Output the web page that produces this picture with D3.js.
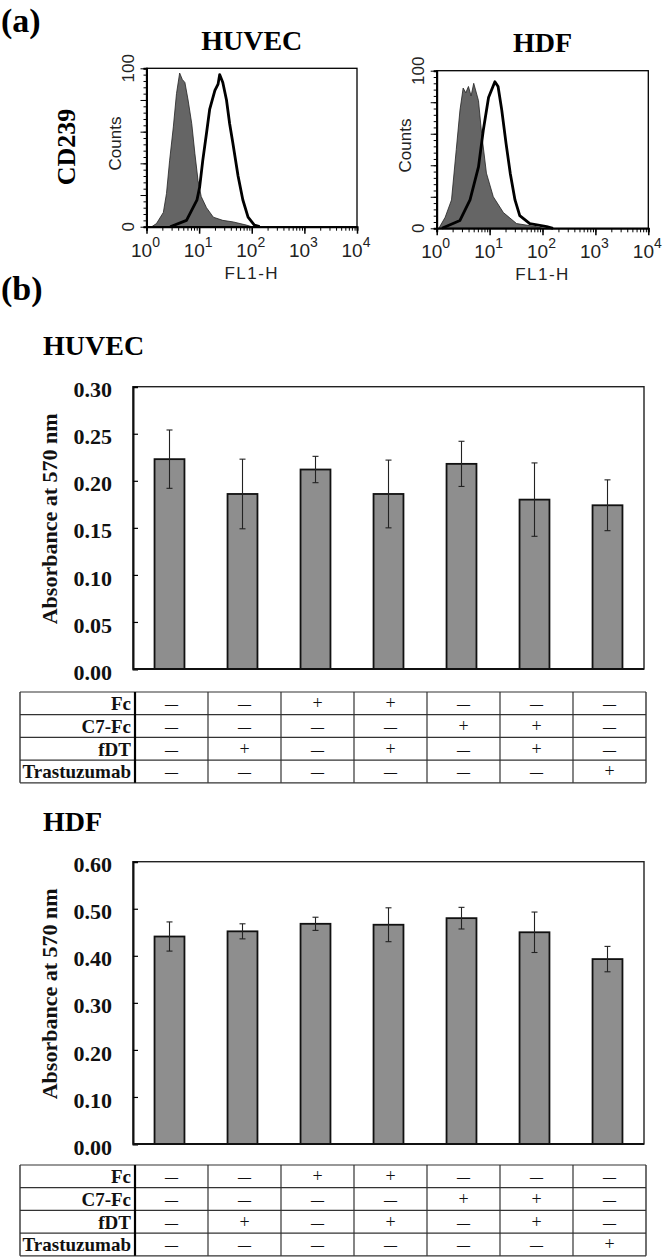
<!DOCTYPE html>
<html>
<head>
<meta charset="UTF-8">
<title>CD239 expression and viability, HUVEC / HDF</title>
<script src="https://d3js.org/d3.v7.min.js"></script>
<style>
  body { margin: 0; background: #fff; }
  svg { display: block; }
</style>
</head>
<body>
<div id="chart"></div>
<script>
  // (a) flow histograms: log10(FL1-H) positions and counts (0-100)
  const huvecIsoLog = [0.10, 0.19, 0.32, 0.38, 0.44, 0.51, 0.57, 0.63, 0.68, 0.73, 0.79, 0.86, 0.92, 0.98, 1.04, 1.14, 1.27, 1.45, 1.65, 1.90, 2.00];
  const huvecIsoCnt = [0, 2, 9, 21, 42, 63, 84, 97, 93, 91, 80, 65, 46, 29, 19, 12, 6, 4, 3, 1, 0];
  const huvecCdLog = [0.45, 0.76, 0.96, 1.01, 1.07, 1.14, 1.20, 1.30, 1.36, 1.39, 1.45, 1.52, 1.58, 1.64, 1.74, 1.83, 1.93, 2.05, 2.15];
  const huvecCdCnt = [0, 4, 17, 25, 42, 59, 74, 86, 90, 96, 91, 80, 65, 53, 32, 17, 6, 1, 0];

  const hdfIsoLog = [0.04, 0.16, 0.28, 0.37, 0.44, 0.50, 0.55, 0.60, 0.65, 0.70, 0.79, 0.85, 0.94, 1.07, 1.26, 1.51, 1.89, 2.00];
  const hdfIsoCnt = [0, 7, 18, 50, 75, 89, 86, 90, 84, 92, 81, 60, 35, 20, 10, 3, 1, 0];
  const hdfCdLog = [0.10, 0.44, 0.63, 0.79, 0.88, 0.98, 1.10, 1.16, 1.23, 1.31, 1.39, 1.48, 1.57, 1.76, 2.08, 2.20];
  const hdfCdCnt = [0, 5, 18, 39, 62, 83, 93, 90, 75, 54, 35, 18, 8, 3, 1, 0];

  const flowDecades = [0, 1, 2, 3, 4];
  const countTicks = [0, 100];

  // (b) viability assay
  const conditions = ["none", "fDT", "Fc", "Fc+fDT", "C7-Fc", "C7-Fc+fDT", "Trastuzumab"];
  const huvecMean = [0.223, 0.186, 0.212, 0.186, 0.218, 0.180, 0.174];
  const huvecErr = [0.031, 0.037, 0.014, 0.036, 0.024, 0.039, 0.027];
  const hdfMean = [0.441, 0.452, 0.468, 0.466, 0.480, 0.450, 0.393];
  const hdfErr = [0.031, 0.016, 0.014, 0.036, 0.023, 0.043, 0.027];
  const huvecTicks = [0, 0.05, 0.10, 0.15, 0.20, 0.25, 0.30];
  const hdfTicks = [0, 0.10, 0.20, 0.30, 0.40, 0.50, 0.60];

  const treatments = ["Fc", "C7-Fc", "fDT", "Trastuzumab"];
  const fcRow = ["—", "—", "+", "+", "—", "—", "—"];
  const c7Row = ["—", "—", "—", "—", "+", "+", "—"];
  const fdtRow = ["—", "+", "—", "+", "—", "+", "—"];
  const trasRow = ["—", "—", "—", "—", "—", "—", "+"];
  const tableRows = [fcRow, c7Row, fdtRow, trasRow];

  const SERIF = '"Liberation Serif", "Times New Roman", "DejaVu Serif", serif';
  const SANS = '"Liberation Sans", Arial, "DejaVu Sans", sans-serif';

  const W = 666, H = 1259;
  const svg = d3.select("#chart").append("svg")
    .attr("width", W).attr("height", H);

  svg.append("text")
    .attr("x", 1).attr("y", 32)
    .style("font-family", SERIF).style("font-size", "34px").style("font-weight", "bold")
    .text("(a)");
  svg.append("text")
    .attr("x", 1).attr("y", 300)
    .style("font-family", SERIF).style("font-size", "34px").style("font-weight", "bold")
    .text("(b)");

  // ---------- flow panels ----------
  function drawFlow(o) {
    const x = d3.scaleLog().domain([1, 1e4]).range([o.left, o.right]);
    const y = d3.scaleLinear().domain([0, 100]).range([o.bottom, o.top]);
    const g = svg.append("g");

    g.append("text")
      .attr("x", (o.left + o.right) / 2).attr("y", o.titleY)
      .attr("text-anchor", "middle")
      .style("font-family", SERIF).style("font-size", "28px").style("font-weight", "bold")
      .text(o.title);

    const area = d3.area()
      .x((d, i) => x(10 ** o.isoLog[i]))
      .y0(y(0)).y1(d => y(d));
    g.append("path").datum(o.isoCnt)
      .attr("d", area)
      .attr("fill", "#656565").attr("stroke", "#222").attr("stroke-width", 0.8);

    const line = d3.line()
      .x((d, i) => x(10 ** o.cdLog[i]))
      .y(d => y(d));
    g.append("path").datum(o.cdCnt)
      .attr("d", line)
      .attr("fill", "none").attr("stroke", "#000").attr("stroke-width", 2.8)
      .attr("stroke-linejoin", "round");

    g.append("rect")
      .attr("x", o.left).attr("y", o.top)
      .attr("width", o.right - o.left).attr("height", o.bottom - o.top)
      .attr("fill", "none").attr("stroke", "#000").attr("stroke-width", 1.3);

    // x axis: minor and decade ticks
    const minor = x.ticks();
    g.append("g").attr("transform", `translate(0,${o.bottom})`)
      .call(d3.axisBottom(x).tickValues(minor).tickSize(4).tickFormat(""))
      .call(a => a.select(".domain").attr("stroke-width", 2));
    g.append("g").attr("transform", `translate(0,${o.bottom})`)
      .call(d3.axisBottom(x).tickValues(flowDecades.map(d => 10 ** d)).tickSize(7).tickFormat(""))
      .call(a => a.select(".domain").remove())
      .call(a => a.selectAll("line").attr("stroke-width", 1.5));

    const lab = g.selectAll(".xlab").data(flowDecades).enter()
      .append("text").attr("class", "xlab")
      .attr("x", d => x(10 ** d) - 1).attr("y", o.bottom + 30)
      .attr("text-anchor", "middle")
      .style("font-family", SANS).style("font-size", "19px").style("fill", "#222");
    lab.append("tspan").text("10");
    lab.append("tspan").attr("dy", -10).style("font-size", "14px").text(d => d);

    g.append("text")
      .attr("x", (o.left + o.right) / 2).attr("y", o.bottom + 52)
      .attr("text-anchor", "middle")
      .style("font-family", SANS).style("font-size", "17px")
      .style("letter-spacing", "1.5px").style("fill", "#222")
      .text("FL1-H");

    // y axis
    g.append("g").attr("transform", `translate(${o.left},0)`)
      .call(d3.axisLeft(y).tickValues(d3.range(0, 101, 4)).tickSize(3).tickFormat(""))
      .call(a => a.select(".domain").attr("stroke-width", 2));
    g.append("g").attr("transform", `translate(${o.left},0)`)
      .call(d3.axisLeft(y).tickValues(d3.range(0, 101, 20)).tickSize(6).tickFormat(""))
      .call(a => a.select(".domain").remove());

    g.selectAll(".ylab").data(countTicks).enter()
      .append("text").attr("class", "ylab")
      .attr("transform", d => `translate(${o.left - 13},${y(d)}) rotate(-90)`)
      .attr("text-anchor", "middle")
      .style("font-family", SANS).style("font-size", "17px").style("fill", "#222")
      .text(d => d);

    g.append("text")
      .attr("transform", `translate(${o.left - 26},${(o.top + o.bottom) / 2 - 4}) rotate(-90)`)
      .attr("text-anchor", "middle")
      .style("font-family", SANS).style("font-size", "17px").style("fill", "#222")
      .text("Counts");
  }

  drawFlow({ title: "HUVEC", titleY: 50, left: 146.5, right: 357, top: 68.3, bottom: 226.7,
    isoLog: huvecIsoLog, isoCnt: huvecIsoCnt, cdLog: huvecCdLog, cdCnt: huvecCdCnt });
  drawFlow({ title: "HDF", titleY: 52, left: 436.7, right: 648.3, top: 70.7, bottom: 228.3,
    isoLog: hdfIsoLog, isoCnt: hdfIsoCnt, cdLog: hdfCdLog, cdCnt: hdfCdCnt });

  svg.append("text")
    .attr("transform", "translate(75,147) rotate(-90)")
    .attr("text-anchor", "middle")
    .style("font-family", SERIF).style("font-size", "26px").style("font-weight", "bold")
    .text("CD239");

  // ---------- bar panels ----------
  function drawBars(o) {
    const x = d3.scaleBand().domain(conditions).range([133, 644])
      .paddingInner(0.59).paddingOuter(0.295);
    const y = d3.scaleLinear().domain([0, o.max]).range([o.bottom, o.top]);
    const g = svg.append("g");

    g.append("text")
      .attr("x", 43).attr("y", o.titleY)
      .style("font-family", SERIF).style("font-size", "28px").style("font-weight", "bold")
      .text(o.title);

    g.append("g").selectAll("rect").data(o.mean).enter()
      .append("rect")
      .attr("x", (d, i) => x(conditions[i]))
      .attr("y", d => y(d))
      .attr("width", x.bandwidth())
      .attr("height", d => y(0) - y(d))
      .attr("fill", "#8e8e8e").attr("stroke", "#111").attr("stroke-width", 1.8);

    const eb = g.append("g").selectAll("g").data(o.mean).enter().append("g")
      .attr("stroke", "#222").attr("stroke-width", 1.1);
    const cx = (d, i) => x(conditions[i]) + x.bandwidth() / 2;
    eb.append("line")
      .attr("x1", cx).attr("x2", cx)
      .attr("y1", (d, i) => y(d + o.err[i])).attr("y2", (d, i) => y(d - o.err[i]));
    eb.append("line")
      .attr("x1", (d, i) => cx(d, i) - 3).attr("x2", (d, i) => cx(d, i) + 3)
      .attr("y1", (d, i) => y(d + o.err[i])).attr("y2", (d, i) => y(d + o.err[i]));
    eb.append("line")
      .attr("x1", (d, i) => cx(d, i) - 3).attr("x2", (d, i) => cx(d, i) + 3)
      .attr("y1", (d, i) => y(d - o.err[i])).attr("y2", (d, i) => y(d - o.err[i]));

    g.append("rect")
      .attr("x", 133).attr("y", o.top)
      .attr("width", 644 - 133).attr("height", o.bottom - o.top)
      .attr("fill", "none").attr("stroke", "#222").attr("stroke-width", 1.4);

    g.append("g").attr("transform", "translate(133,0)")
      .call(d3.axisLeft(y).tickValues(o.ticks).tickSize(-5).tickPadding(21)
        .tickFormat(d3.format(".2f")))
      .call(a => a.select(".domain").attr("stroke-width", 2).attr("stroke", "#111"))
      .call(a => a.selectAll("line").attr("stroke-width", 1.2))
      .call(a => a.selectAll("text")
        .attr("dy", "0.46em")
        .style("font-family", SERIF).style("font-size", "22px")
        .style("font-weight", "bold").style("fill", "#111"));

    g.append("line")
      .attr("x1", 133).attr("x2", 644).attr("y1", o.bottom).attr("y2", o.bottom)
      .attr("stroke", "#111").attr("stroke-width", 2);

    g.append("text")
      .attr("transform", `translate(57,${(o.top + o.bottom) / 2 - 9}) rotate(-90)`)
      .attr("text-anchor", "middle")
      .style("font-family", SERIF).style("font-size", "22px")
      .style("font-weight", "bold").style("fill", "#111")
      .text("Absorbance at 570 nm");

    // treatment table
    const rowH = 22.7;
    const ty = d3.scaleBand().domain(treatments).range([o.tableTop, o.tableTop + rowH * 4]);
    const tx = d3.scaleBand().domain(conditions).range([135, 646]);
    const t = g.append("g");
    const tl = 20, tr = 646, tb = o.tableTop + rowH * 4;

    t.selectAll(".hl").data(d3.range(5)).enter().append("line")
      .attr("x1", tl).attr("x2", tr)
      .attr("y1", d => o.tableTop + d * rowH).attr("y2", d => o.tableTop + d * rowH)
      .attr("stroke", "#333").attr("stroke-width", 1.2);
    t.selectAll(".vl").data(conditions.slice(1)).enter().append("line")
      .attr("x1", d => tx(d)).attr("x2", d => tx(d))
      .attr("y1", o.tableTop).attr("y2", tb)
      .attr("stroke", "#333").attr("stroke-width", 1.2);
    t.append("line").attr("x1", tl).attr("x2", tl).attr("y1", o.tableTop).attr("y2", tb)
      .attr("stroke", "#333").attr("stroke-width", 1.4);
    t.append("line").attr("x1", tr).attr("x2", tr).attr("y1", o.tableTop).attr("y2", tb)
      .attr("stroke", "#333").attr("stroke-width", 1.4);
    t.append("line").attr("x1", 135).attr("x2", 135).attr("y1", o.tableTop).attr("y2", tb)
      .attr("stroke", "#000").attr("stroke-width", 2.2);

    t.selectAll(".rl").data(treatments).enter().append("text")
      .attr("x", 131).attr("y", d => ty(d) + rowH - 4.5)
      .attr("text-anchor", "end")
      .style("font-family", SERIF).style("font-size", "19px")
      .style("font-weight", "bold").style("fill", "#111")
      .text(d => d);

    tableRows.forEach((row, r) => {
      t.selectAll(".c" + r).data(row).enter().append("text")
        .attr("x", (d, i) => tx(conditions[i]) + tx.bandwidth() / 2)
        .attr("y", d => ty(treatments[r]) + rowH / 2 + (d === "+" ? 6 : 5))
        .attr("text-anchor", "middle")
        .style("font-family", SERIF)
        .style("font-size", d => d === "+" ? "18px" : "13px")
        .style("font-weight", d => d === "+" ? "normal" : "bold")
        .style("fill", "#111")
        .text(d => d);
    });
  }

  drawBars({ title: "HUVEC", titleY: 355, top: 386.7, bottom: 669, max: 0.30, ticks: huvecTicks,
    mean: huvecMean, err: huvecErr, tableTop: 692 });
  drawBars({ title: "HDF", titleY: 831, top: 861.7, bottom: 1144, max: 0.60, ticks: hdfTicks,
    mean: hdfMean, err: hdfErr, tableTop: 1165 });
</script>
</body>
</html>
